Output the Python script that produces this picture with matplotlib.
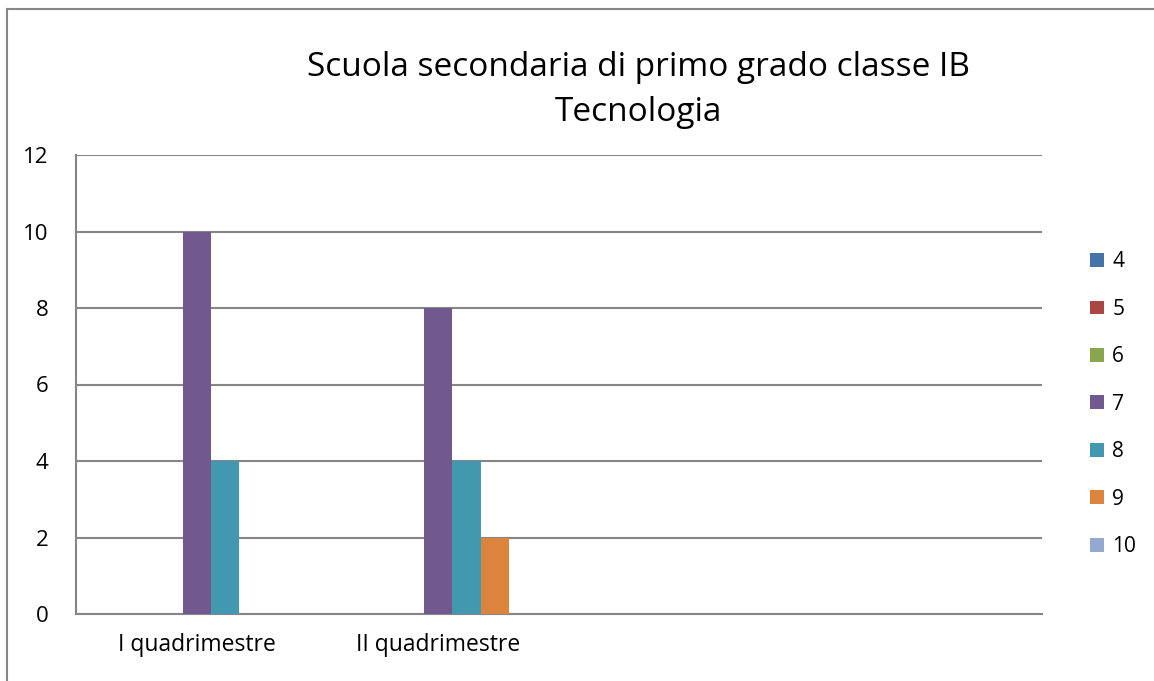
import numpy as np
import matplotlib.pyplot as plt
from matplotlib.patches import Rectangle

categories = ['I quadrimestre', 'II quadrimestre', '', '']
series = ['4', '5', '6', '7', '8', '9', '10']
values = {
    '4': [0, 0, 0, 0],
    '5': [0, 0, 0, 0],
    '6': [0, 0, 0, 0],
    '7': [10, 8, 0, 0],
    '8': [4, 4, 0, 0],
    '9': [0, 2, 0, 0],
    '10': [0, 0, 0, 0],
}
colors = ['#4572A7', '#AA4643', '#89A54E', '#71588F', '#4198AF', '#DB843D', '#93A9CF']

plt.rcParams['font.family'] = ['Open Sans', 'DejaVu Sans']

fig = plt.figure(figsize=(11.54, 6.81), dpi=100)
ax = fig.add_axes([76/1154, 1-614/681, (1042-76)/1154, (614-155)/681])

# outer chart frame (only top/left visible in the original)
fig.patches.append(Rectangle((7/1154, -0.1), 1.2, 1-9/681+0.1, transform=fig.transFigure,
                             fill=False, edgecolor='#868686', lw=1.5))

x = np.arange(len(categories))
w = 1/8.5
for i, s in enumerate(series):
    ax.bar(x + (i-3)*w, values[s], width=w, color=colors[i], label=s, zorder=3)

ax.set_xlim(-0.5, 3.5)
ax.set_ylim(0, 12)
ax.set_yticks(range(0, 13, 2))
ax.set_xticks(x)
ax.set_xticklabels(categories, fontsize=16.5)
ax.tick_params(axis='y', labelsize=16, length=0, pad=20)
ax.tick_params(axis='x', length=0, pad=14)
ax.grid(axis='y', color='#868686', lw=1.5, zorder=1)
for sp in ['top', 'right']:
    ax.spines[sp].set_visible(False)
for sp in ['left', 'bottom']:
    ax.spines[sp].set_color('#868686')
    ax.spines[sp].set_linewidth(1.5)

fig.text(638/1154, 1-90/681, 'Scuola secondaria di primo grado classe IB\nTecnologia',
         ha='center', va='center', fontsize=24, linespacing=1.45)

ax.legend(loc='upper left', bbox_to_anchor=(1082/1154, 1-243/681), bbox_transform=fig.transFigure,
          frameon=False, fontsize=15, handlelength=0.65, handleheight=0.65, handletextpad=0.4,
          labelspacing=1.27, borderaxespad=0)

fig.savefig('out.png', dpi=100)
